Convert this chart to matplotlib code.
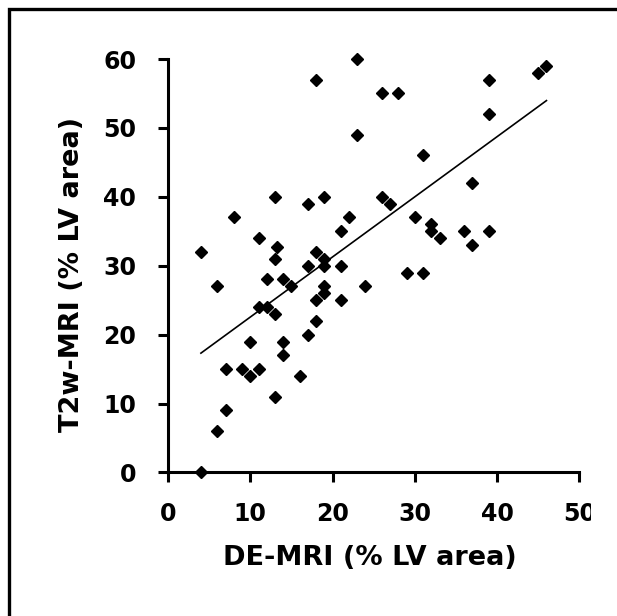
import numpy as np
import matplotlib
matplotlib.use("Agg")
import matplotlib.pyplot as plt
from matplotlib.patches import Rectangle
from matplotlib.transforms import Bbox

# DE-MRI vs T2w-MRI (% LV area)
de_mri = [4, 4, 6, 6, 8, 7, 7, 9, 10, 10, 11, 11, 11, 12, 12, 13, 13.3, 13, 13, 13,
          14, 14, 14, 15, 16, 17, 17, 17, 18, 18, 18, 18, 19, 19, 19, 19, 19,
          21, 21, 21, 22, 23, 23, 24, 26, 26, 27, 28, 29, 30, 31, 31, 32, 32, 33,
          36, 37, 37, 39, 39, 39, 45, 46]
t2w_mri = [32, 0, 27, 6, 37, 15, 9, 15, 14, 19, 34, 15, 24, 28, 24, 40, 32.7, 31, 23, 11,
           28, 19, 17, 27, 14, 39, 30, 20, 57, 32, 25, 22, 40, 31, 30, 27, 26,
           35, 30, 25, 37, 60, 49, 27, 55, 40, 39, 55, 29, 37, 46, 29, 36, 35, 34,
           35, 42, 33, 57, 52, 35, 58, 59]

x_ticks = [0, 10, 20, 30, 40, 50]
y_ticks = [0, 10, 20, 30, 40, 50, 60]

plt.rcParams['font.family'] = ['DejaVu Sans']
plt.rcParams['font.weight'] = 'bold'

fig = plt.figure(figsize=(6.17, 6.16), dpi=100)
ax = fig.add_axes([0.2723, 0.2331, 0.6667, 0.6711])

x = np.array(de_mri)
y = np.array(t2w_mri)
ax.plot(x, y, 'D', color='black', markersize=6, clip_on=False, zorder=3)

# linear trendline
k, q = np.polyfit(x, y, 1)
xl = np.array([x.min(), x.max()])
ax.plot(xl, k * xl + q, color='black', linewidth=1.2)

ax.set_xlim(0, 50)
ax.set_ylim(0, 60)
ax.set_xticks(x_ticks)
ax.set_yticks(y_ticks)
for s in ['top', 'right']:
    ax.spines[s].set_visible(False)
for s in ['left', 'bottom']:
    ax.spines[s].set_linewidth(2.2)
ax.tick_params(direction='out', length=7, width=2.2, labelsize=17)
ax.tick_params(axis='x', pad=14)
ax.tick_params(axis='y', pad=16)

ax.set_xlabel('DE-MRI (% LV area)', fontsize=19.5, fontweight='bold')
ax.set_ylabel('T2w-MRI (% LV area)', fontsize=19.5, fontweight='bold')
ax.xaxis.set_label_coords(0.49, -0.175)
ax.yaxis.set_label_coords(-0.203, 0.48)

# frame around the picture (cropped at right and bottom)
fig.patches.append(Rectangle((9 / 617, -0.1), 1.2, 1 - 9 / 616 + 0.1,
                             transform=fig.transFigure, fill=False,
                             edgecolor='black', linewidth=2.4, clip_on=False))

fig.canvas.draw()
# last tick label is cut off at the right in the original
clip = Bbox.from_extents(0, 0, 591, 616)
for lab in ax.get_xticklabels():
    lab.set_clip_box(clip)
    lab.set_clip_on(True)

fig.savefig('out.png', dpi=100)
